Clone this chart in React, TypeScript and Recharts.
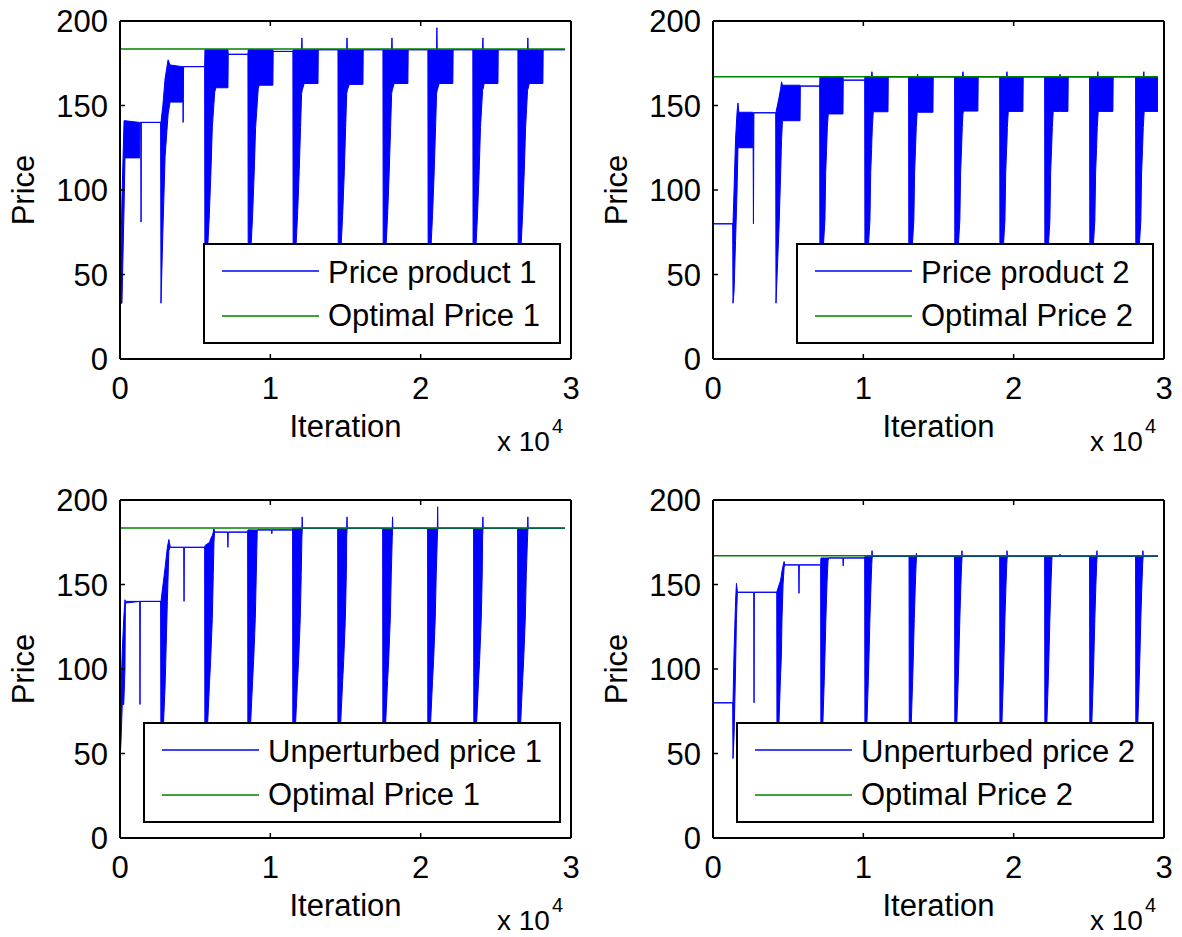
import { ComposedChart, Area, Line, XAxis, YAxis, Legend } from 'recharts'

type Pt = [number, number, number] // [iteration, low of the oscillation, high of the oscillation]

const FONT = '"Liberation Sans", Arial, Helvetica, sans-serif'
const BLUE = '#0000ff'
const GREEN = '#008000'

const xTicks = [0, 10000, 20000, 30000]
const yTicks = [0, 50, 100, 150, 200]
const optIters = [0, 29600]

const optimalPrice1 = 183.4
const optimalPrice2 = 167

// price product 1 (perturbed)
const priceProduct1: Pt[] = [
  [0, 33, 33], [130, 33, 95], [270, 90, 141], [330, 119, 141], [1300, 119, 140], [1330, 140, 140],
  [1380, 140, 140], [1400, 81, 140], [1420, 140, 140], [2700, 140, 140],
  [2727, 33, 140], [2850, 75, 150], [3000, 120, 166], [3200, 145, 177], [3330, 152, 174], [4150, 152, 173],
  [4170, 173, 173], [4200, 140, 173], [4230, 173, 173], [5630, 173, 173],
  [5650, 33, 183], [5940, 85, 183], [6050, 111, 183], [6140, 137, 183], [6300, 158, 183], [6380, 160.5, 183],
  [7180, 160.5, 183], [7200, 180.3, 180.3], [8510, 180.3, 180.3],
  [8530, 33, 183], [8820, 85, 183], [8930, 111, 183], [9020, 137, 183], [9195, 160, 183], [9260, 162, 183],
  [10170, 162, 183], [10190, 182, 182], [11500, 182, 182],
  [11520, 33, 183], [11810, 85, 183], [11920, 111, 183], [12010, 137, 183], [12080, 157, 183], [12100, 158, 190],
  [12120, 159, 183], [12250, 163, 183], [13170, 163, 183], [13190, 183, 183], [14500, 183, 183],
  [14520, 33, 183], [14810, 85, 183], [14920, 111, 183], [15010, 137, 183], [15080, 157, 183], [15100, 158, 190],
  [15120, 159, 183], [15250, 162.5, 183], [16160, 162.5, 183], [16180, 183, 183], [17490, 183, 183],
  [17510, 33, 183], [17800, 85, 183], [17910, 111, 183], [18000, 137, 183], [18070, 157, 183], [18090, 158, 190],
  [18110, 159, 183], [18240, 163, 183], [19150, 163, 183], [19170, 183, 183], [20480, 183, 183],
  [20500, 33, 183], [20790, 85, 183], [20900, 111, 183], [20990, 137, 183], [21060, 157, 183], [21080, 158, 196],
  [21100, 159, 183], [21230, 163, 183], [22140, 163, 183], [22160, 183, 183], [23470, 183, 183],
  [23490, 33, 183], [23780, 85, 183], [23890, 111, 183], [23980, 137, 183], [24120, 159, 183], [24140, 160, 190],
  [24160, 160, 183], [24220, 163, 183], [25140, 163, 183], [25160, 183, 183], [26470, 183, 183],
  [26490, 33, 183], [26780, 85, 183], [26890, 111, 183], [26980, 137, 183], [27110, 159, 183], [27130, 160, 190],
  [27150, 160, 183], [27220, 163, 183], [28130, 163, 183], [28150, 183, 183], [29600, 183, 183],
]

// price product 2 (perturbed)
const priceProduct2: Pt[] = [
  [0, 80, 80], [1310, 80, 80], [1330, 33, 80], [1400, 40, 100], [1500, 70, 130], [1600, 100, 146],
  [1660, 125, 151.5], [1720, 125, 146], [2640, 125, 146], [2660, 145.7, 145.7], [2690, 80, 145.7],
  [2720, 145.7, 145.7], [4170, 145.7, 145.7],
  [4190, 33, 146], [4400, 80, 155], [4500, 110, 160], [4560, 130, 164], [4620, 141, 162], [5790, 141, 162],
  [5810, 161.5, 161.5], [7095, 161.5, 161.5],
  [7115, 33, 167], [7445, 82, 167], [7495, 110, 167], [7555, 124, 167], [7605, 137, 167], [7665, 145, 167],
  [8645, 145, 167], [8665, 165, 165], [10090, 165, 165],
  [10110, 33, 167], [10440, 82, 167], [10490, 110, 167], [10550, 124, 167], [10570, 130, 170], [10600, 137, 167],
  [10660, 146.3, 167], [11640, 146.3, 167], [11660, 167, 167], [13010, 167, 167],
  [13030, 33, 167], [13360, 82, 167], [13410, 110, 167], [13470, 124, 167], [13520, 137, 167], [13580, 146, 167],
  [13610, 146, 168.5], [13640, 146, 167], [14630, 146, 167], [14650, 167, 167], [16070, 167, 167],
  [16090, 33, 167], [16420, 82, 167], [16470, 110, 167], [16530, 124, 167], [16580, 137, 167], [16625, 145, 170],
  [16660, 146.7, 167], [17620, 146.7, 167], [17640, 167, 167], [19070, 167, 167],
  [19090, 33, 167], [19420, 82, 167], [19470, 110, 167], [19530, 124, 167], [19550, 128, 170], [19580, 137, 167],
  [19640, 146.5, 167], [20615, 146.5, 167], [20635, 167, 167], [22060, 167, 167],
  [22080, 33, 167], [22410, 82, 167], [22460, 110, 167], [22520, 124, 167], [22570, 137, 167], [22630, 146.5, 167],
  [23060, 146.5, 167], [23080, 146.5, 168.5], [23100, 146.5, 167], [23610, 146.5, 167], [23630, 167, 167],
  [25050, 167, 167],
  [25070, 33, 167], [25400, 82, 167], [25450, 110, 167], [25510, 124, 167], [25560, 137, 167], [25600, 143, 170],
  [25620, 146.5, 167], [26600, 146.5, 167], [26620, 167, 167], [28110, 167, 167],
  [28130, 33, 167], [28460, 82, 167], [28510, 110, 167], [28570, 124, 167], [28620, 137, 167], [28660, 143, 170],
  [28680, 146.5, 167], [29600, 146.5, 167],
]

// unperturbed price 1
const unperturbed1: Pt[] = [
  [0, 46, 46], [80, 60, 90], [150, 79, 110], [250, 79, 130], [330, 100, 141], [360, 139, 140], [1310, 140, 140],
  [1330, 79, 140], [1350, 140, 140], [2700, 140, 140],
  [2727, 33, 140], [3000, 90, 160], [3150, 140, 172], [3250, 170, 176.6], [3330, 172, 173], [3350, 172, 172],
  [4240, 172, 172], [4260, 140, 172], [4280, 172, 172], [5630, 172, 172],
  [5650, 33, 173], [5960, 93, 175], [6030, 105, 177], [6140, 130, 179], [6205, 156, 181], [6250, 175, 183],
  [6290, 181, 181], [7160, 181, 181], [7180, 172, 181], [7200, 181, 181], [8490, 181, 181],
  [8510, 33, 182.3], [8820, 93, 182.3], [8890, 105, 182.3], [9000, 130, 182.3], [9065, 156, 182.3],
  [9130, 182.3, 182.3], [10080, 182.3, 182.3], [10100, 180, 182.3], [10120, 182.3, 182.3], [11480, 182.3, 182.3],
  [11500, 33, 183.3], [11810, 93, 183.3], [11880, 105, 183.3], [11990, 130, 183.3], [12055, 156, 183.3],
  [12100, 178, 183.3], [12120, 182, 190], [12140, 183.3, 183.3], [14480, 183.3, 183.3],
  [14500, 33, 183.3], [14810, 93, 183.3], [14880, 105, 183.3], [14990, 130, 183.3], [15055, 156, 183.3],
  [15080, 178, 183.3], [15100, 182, 190], [15120, 183.3, 183.3], [17470, 183.3, 183.3],
  [17490, 33, 183.3], [17800, 93, 183.3], [17870, 105, 183.3], [17980, 130, 183.3], [18045, 156, 183.3],
  [18110, 178, 183.3], [18130, 182, 190], [18150, 183.3, 183.3], [20460, 183.3, 183.3],
  [20480, 33, 183.3], [20790, 93, 183.3], [20860, 105, 183.3], [20970, 130, 183.3], [21035, 156, 183.3],
  [21110, 178, 183.3], [21130, 182, 196], [21150, 183.3, 183.3], [23520, 183.3, 183.3],
  [23540, 33, 183.3], [23850, 93, 183.3], [23920, 105, 183.3], [24030, 130, 183.3], [24095, 156, 183.3],
  [24120, 178, 183.3], [24140, 182, 190], [24160, 183.3, 183.3], [26450, 183.3, 183.3],
  [26470, 33, 183.3], [26780, 93, 183.3], [26850, 105, 183.3], [26960, 130, 183.3], [27025, 156, 183.3],
  [27110, 178, 183.3], [27130, 182, 190], [27150, 183.3, 183.3], [29600, 183.3, 183.3],
]

// unperturbed price 2
const unperturbed2: Pt[] = [
  [0, 80, 80], [1310, 80, 80], [1330, 47, 80], [1400, 60, 110], [1500, 100, 140], [1560, 130, 150.7],
  [1620, 145.4, 146], [1660, 145.4, 145.4], [2710, 145.4, 145.4], [2730, 80, 145.4], [2750, 145.4, 145.4],
  [4240, 145.4, 145.4],
  [4260, 33, 146], [4480, 93, 152], [4545, 107, 155], [4590, 130, 158], [4660, 150, 161], [4730, 160, 163.6],
  [4770, 161.6, 161.6], [5700, 161.6, 161.6], [5720, 144.8, 161.6], [5740, 161.6, 161.6], [7160, 161.6, 161.6],
  [7180, 33, 165.7], [7400, 93, 165.7], [7445, 107, 165.7], [7510, 130, 165.7], [7580, 150, 165.7],
  [7650, 164, 165.7], [7690, 165.7, 165.7], [8640, 165.7, 165.7], [8660, 161, 165.7], [8680, 165.7, 165.7],
  [10090, 165.7, 165.7],
  [10110, 33, 166.7], [10330, 93, 166.7], [10375, 107, 166.7], [10440, 130, 166.7], [10510, 150, 166.7],
  [10560, 162, 166.7], [10580, 165, 170], [10600, 166.7, 166.7], [13040, 166.7, 166.7],
  [13060, 33, 166.7], [13280, 93, 166.7], [13325, 107, 166.7], [13390, 130, 166.7], [13460, 150, 166.7],
  [13510, 162, 166.7], [13530, 165, 168.5], [13550, 166.7, 166.7], [16070, 166.7, 166.7],
  [16090, 33, 166.7], [16310, 93, 166.7], [16355, 107, 166.7], [16420, 130, 166.7], [16490, 150, 166.7],
  [16540, 162, 166.7], [16560, 165, 170], [16580, 166.7, 166.7], [19070, 166.7, 166.7],
  [19090, 33, 166.7], [19310, 93, 166.7], [19355, 107, 166.7], [19420, 130, 166.7], [19490, 150, 166.7],
  [19540, 162, 166.7], [19560, 165, 170], [19580, 166.7, 166.7], [22060, 166.7, 166.7],
  [22080, 33, 166.7], [22300, 93, 166.7], [22345, 107, 166.7], [22410, 130, 166.7], [22480, 150, 166.7],
  [22550, 166.7, 166.7], [23060, 166.7, 166.7], [23080, 166.7, 168], [23100, 166.7, 166.7], [25050, 166.7, 166.7],
  [25070, 33, 166.7], [25290, 93, 166.7], [25335, 107, 166.7], [25400, 130, 166.7], [25470, 150, 166.7],
  [25520, 162, 166.7], [25540, 165, 170], [25560, 166.7, 166.7], [28110, 166.7, 166.7],
  [28130, 33, 166.7], [28350, 93, 166.7], [28395, 107, 166.7], [28460, 130, 166.7], [28530, 150, 166.7],
  [28580, 162, 166.7], [28600, 165, 170], [28620, 166.7, 166.7], [29600, 166.7, 166.7],
]

const txt = { fontFamily: FONT, fontSize: 31, fill: '#000' }

// matlab style ticks: short marks pointing into the box
function BottomTick({ x, y, payload }: any) {
  return (
    <g>
      <line x1={x} x2={x} y1={y} y2={y - 5} stroke="#000" strokeWidth={1.5} />
      <text x={x} y={y + 40} textAnchor="middle" {...txt}>
        {payload.value / 10000}
      </text>
    </g>
  )
}

function TopTick({ x, y }: any) {
  return <line x1={x} x2={x} y1={y} y2={y + 5} stroke="#000" strokeWidth={1.5} />
}

function LeftTick({ x, y, payload }: any) {
  return (
    <g>
      <line x1={x} x2={x + 5} y1={y} y2={y} stroke="#000" strokeWidth={1.5} />
      <text x={x - 12} y={y + 11} textAnchor="end" {...txt}>
        {payload.value}
      </text>
    </g>
  )
}

function RightTick({ x, y }: any) {
  return <line x1={x} x2={x - 5} y1={y} y2={y} stroke="#000" strokeWidth={1.5} />
}

function LegendBox({ payload, width }: any) {
  // price series first, optimal price second, as in the original legend
  const items = [...(payload || [])].sort((a: any, b: any) => (a.color === BLUE ? 0 : 1) - (b.color === BLUE ? 0 : 1))
  return (
    <svg width={width} height={101} style={{ display: 'block' }}>
      <rect x={1} y={1} width={width - 2} height={99} fill="#fff" stroke="#000" strokeWidth={2} />
      {items.map((e: any, i: number) => (
        <g key={i}>
          <line x1={19} x2={116} y1={28 + 45 * i} y2={28 + 45 * i} stroke={e.color} strokeWidth={1.5} />
          <text x={125} y={40 + 43 * i} {...txt}>
            {e.value}
          </text>
        </g>
      ))}
    </svg>
  )
}

const axisLine = { stroke: '#000', strokeWidth: 2 }

function PricePanel({ points, optimal, seriesName, optimalName, legendWidth }: any) {
  const rows = points.map(([x, lo, hi]: Pt) => ({ x, band: [lo, hi] }))
  const optRows = optIters.map((x) => ({ x, opt: optimal }))
  return (
    <ComposedChart width={593} height={458} data={rows} margin={{ top: 11, right: 12, bottom: 69, left: 80 }}>
      <XAxis dataKey="x" type="number" domain={[0, 30000]} ticks={xTicks} interval={0} height={30}
        tickSize={0} tickMargin={0} tickLine={false} tick={BottomTick} axisLine={axisLine} />
      <XAxis xAxisId="top" orientation="top" dataKey="x" type="number" domain={[0, 30000]} ticks={xTicks}
        interval={0} height={10} tickSize={0} tickMargin={0} tickLine={false} tick={TopTick} axisLine={axisLine} />
      <YAxis type="number" domain={[0, 200]} ticks={yTicks} interval={0} width={40}
        tickSize={0} tickMargin={0} tickLine={false} tick={LeftTick} axisLine={axisLine} />
      <YAxis yAxisId="right" orientation="right" type="number" domain={[0, 200]} ticks={yTicks} interval={0}
        width={10} tickSize={0} tickMargin={0} tickLine={false} tick={RightTick} axisLine={axisLine} />
      <Area dataKey="band" name={seriesName} type="linear" stroke={BLUE} strokeWidth={1} fill={BLUE}
        fillOpacity={1} dot={false} activeDot={false} isAnimationActive={false} />
      <Line data={optRows} dataKey="opt" name={optimalName} type="linear" stroke={GREEN} strokeWidth={1.6}
        dot={false} activeDot={false} isAnimationActive={false} />
      <Legend layout="vertical" verticalAlign="middle" align="center"
        wrapperStyle={{ left: 561 - legendWidth, top: 243, width: legendWidth, height: 101 }}
        content={(p: any) => <LegendBox payload={p.payload} width={legendWidth} />} />
      <text x={34} y={190} transform="rotate(-90 34 190)" textAnchor="middle" {...txt}>Price</text>
      <text x={345.5} y={437} textAnchor="middle" {...txt}>Iteration</text>
      <text x={497} y={451} {...txt} fontSize={28}>x 10</text>
      <text x={552} y={433} {...txt} fontSize={20}>4</text>
    </ComposedChart>
  )
}

export default function App() {
  return (
    <div style={{ position: 'absolute', left: 0, top: 0, width: 1182, height: 937, background: '#fff', overflow: 'hidden' }}>
      <div style={{ position: 'absolute', left: 0, top: 0 }}>
        <PricePanel points={priceProduct1} optimal={optimalPrice1} seriesName="Price product 1"
          optimalName="Optimal Price 1" legendWidth={358} />
      </div>
      <div style={{ position: 'absolute', left: 593, top: 0 }}>
        <PricePanel points={priceProduct2} optimal={optimalPrice2} seriesName="Price product 2"
          optimalName="Optimal Price 2" legendWidth={358} />
      </div>
      <div style={{ position: 'absolute', left: 0, top: 479 }}>
        <PricePanel points={unperturbed1} optimal={optimalPrice1} seriesName="Unperturbed price 1"
          optimalName="Optimal Price 1" legendWidth={418} />
      </div>
      <div style={{ position: 'absolute', left: 593, top: 479 }}>
        <PricePanel points={unperturbed2} optimal={optimalPrice2} seriesName="Unperturbed price 2"
          optimalName="Optimal Price 2" legendWidth={418} />
      </div>
    </div>
  )
}
